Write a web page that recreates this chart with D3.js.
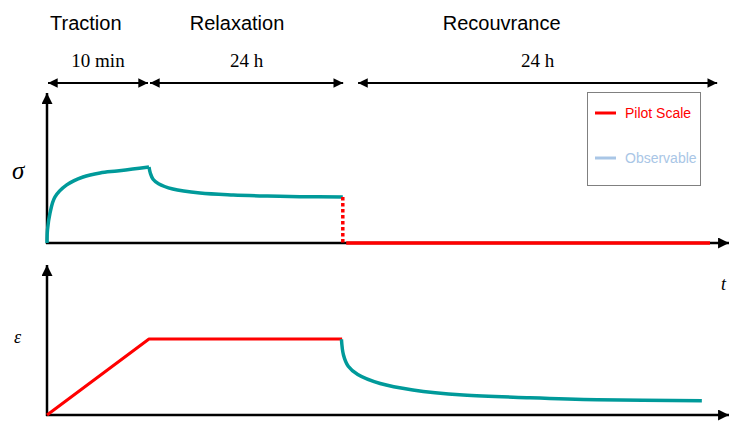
<!DOCTYPE html>
<html>
<head>
<meta charset="utf-8">
<script src="https://cdn.jsdelivr.net/npm/d3@7"></script>
<style>
  body { margin: 0; background: #fff; }
  svg { display: block; }
</style>
</head>
<body>
<script>
// phases along the time axis (abstract time units, 0..100)
var phaseNames = ["Traction", "Relaxation", "Recouvrance"];
var phaseTitleAt = [0.45, 21, 58.2];
var phaseDurations = ["10 min", "24 h", "24 h"];
var phaseStart = [0, 15, 45.6];
var phaseEnd = [15, 43.7, 98.7];

// stress during traction (observable)
var sigmaUpT = [0, 0.07, 0.44, 1.18, 2.9, 5.3, 7.8, 10.3, 12.6, 15];
var sigmaUpV = [0, 8.7, 20, 30.7, 38.7, 44, 46.7, 48, 49.3, 50.7];
// stress during relaxation (observable)
var sigmaRelT = [15, 15.2, 15.6, 16.4, 18.5, 22.5, 27.4, 32.4, 37.2, 43.5];
var sigmaRelV = [50.7, 46.5, 42.5, 39.5, 36, 33.3, 32, 31.3, 30.9, 30.7];
// stress imposed (pilot) : unloading then zero
var sigmaDropT = [43.5, 43.5];
var sigmaDropV = [30.7, 0];
var sigmaZeroT = [44, 97.5];
var sigmaZeroV = [0, 0];

// strain imposed (pilot)
var epsPilotT = [0, 15, 43.4];
var epsPilotV = [0, 50.7, 50.7];
// strain recovery (observable)
var epsObsT = [43.3, 43.6, 44.3, 45.7, 49, 53.8, 61.2, 71, 80.9, 96.3];
var epsObsV = [50.5, 40, 32.5, 27, 21, 16.7, 13.3, 11.5, 10.2, 9.5];

var legendNames = ["Pilot Scale", "Observable"];

var RED = "#ff0000", TEAL = "#009a9a", LIGHT = "#a9c6e6";

var W = 729, H = 421;
var svg = d3.select("body").append("svg").attr("width", W).attr("height", H);

var defs = svg.append("defs");
defs.append("marker")
    .attr("id", "head")
    .attr("viewBox", "0 0 10 10")
    .attr("refX", 10).attr("refY", 5)
    .attr("markerWidth", 5.2).attr("markerHeight", 4.4)
    .attr("markerUnits", "strokeWidth")
    .attr("orient", "auto-start-reverse")
    .append("path").attr("d", "M0,0L10,5L0,10Z").attr("fill", "#000");

var x = d3.scaleLinear().domain([0, 100]).range([47, 727]);
var yTop = d3.scaleLinear().domain([0, 100]).range([243, 93]);
var yBot = d3.scaleLinear().domain([0, 100]).range([415, 265]);

function zip(t, v) { return t.map(function(d, i) { return [d, v[i]]; }); }

// phase titles and duration arrows
phaseNames.forEach(function(name, i) {
    var cx = (x(phaseStart[i]) + x(phaseEnd[i])) / 2;
    svg.append("text")
        .attr("x", x(phaseTitleAt[i])).attr("y", 30)
        .style("font-family", "Liberation Sans, Arial, sans-serif")
        .style("font-size", "20px")
        .text(name);
    svg.append("text")
        .attr("x", cx).attr("y", 67)
        .attr("text-anchor", "middle")
        .style("font-family", "Liberation Serif, Times New Roman, serif")
        .style("font-size", "19px")
        .text(phaseDurations[i]);
    svg.append("line")
        .attr("x1", x(phaseStart[i]) + 1).attr("x2", x(phaseEnd[i]) - 1)
        .attr("y1", 83).attr("y2", 83)
        .attr("stroke", "#000").attr("stroke-width", 2.2)
        .attr("marker-start", "url(#head)")
        .attr("marker-end", "url(#head)");
});

// axes with arrows
function axes(y) {
    svg.append("line")
        .attr("x1", x(0)).attr("x2", x(0))
        .attr("y1", y(0) + 1).attr("y2", y(100))
        .attr("stroke", "#000").attr("stroke-width", 2.5)
        .attr("marker-end", "url(#head)");
    svg.append("line")
        .attr("x1", x(0) - 1).attr("x2", x(100.3))
        .attr("y1", y(0)).attr("y2", y(0))
        .attr("stroke", "#000").attr("stroke-width", 2.5)
        .attr("marker-end", "url(#head)");
}
axes(yTop);
axes(yBot);

var smooth = d3.curveCatmullRom.alpha(0.5);
var lineTop = d3.line().x(function(d) { return x(d[0]); }).y(function(d) { return yTop(d[1]); });
var lineBot = d3.line().x(function(d) { return x(d[0]); }).y(function(d) { return yBot(d[1]); });

// top: stress
[zip(sigmaUpT, sigmaUpV), zip(sigmaRelT, sigmaRelV)].forEach(function(seg) {
    svg.append("path").datum(seg)
        .attr("d", lineTop.curve(smooth))
        .attr("fill", "none").attr("stroke", TEAL).attr("stroke-width", 3.5);
});
svg.append("path").datum(zip(sigmaDropT, sigmaDropV))
    .attr("d", lineTop.curve(d3.curveLinear))
    .attr("fill", "none").attr("stroke", RED).attr("stroke-width", 3.5)
    .attr("stroke-dasharray", "3.5,2.5");
svg.append("path").datum(zip(sigmaZeroT, sigmaZeroV))
    .attr("d", lineTop.curve(d3.curveLinear))
    .attr("fill", "none").attr("stroke", RED).attr("stroke-width", 3.5);

// bottom: strain
svg.append("path").datum(zip(epsPilotT, epsPilotV))
    .attr("d", lineBot.curve(d3.curveLinear))
    .attr("fill", "none").attr("stroke", RED).attr("stroke-width", 3)
    .attr("stroke-linejoin", "round");
svg.append("path").datum(zip(epsObsT, epsObsV))
    .attr("d", lineBot.curve(smooth))
    .attr("fill", "none").attr("stroke", TEAL).attr("stroke-width", 3.5);

// axis symbols
svg.append("text").attr("x", 12).attr("y", 179)
    .style("font-family", "Liberation Serif, Times New Roman, serif")
    .style("font-style", "italic").style("font-size", "25px")
    .text("σ");
svg.append("text").attr("x", 14).attr("y", 343)
    .style("font-family", "Liberation Serif, Times New Roman, serif")
    .style("font-style", "italic").style("font-size", "18px")
    .text("ε");
svg.append("text").attr("x", 721).attr("y", 290)
    .style("font-family", "Liberation Serif, Times New Roman, serif")
    .style("font-style", "italic").style("font-size", "18px")
    .text("t");

// legend
var lg = svg.append("g");
lg.append("rect").attr("x", 587.5).attr("y", 92.5).attr("width", 113).attr("height", 93)
    .attr("fill", "#fff").attr("stroke", "#808080").attr("stroke-width", 1);
var lgColors = [RED, LIGHT], lgY = [113, 158];
legendNames.forEach(function(name, i) {
    lg.append("line")
        .attr("x1", 595).attr("x2", 616)
        .attr("y1", lgY[i]).attr("y2", lgY[i])
        .attr("stroke", lgColors[i]).attr("stroke-width", 3);
    lg.append("text")
        .attr("x", 625).attr("y", lgY[i] + 5)
        .attr("fill", lgColors[i])
        .style("font-family", "Liberation Sans, Arial, sans-serif")
        .style("font-size", "14px")
        .text(name);
});
</script>
</body>
</html>
